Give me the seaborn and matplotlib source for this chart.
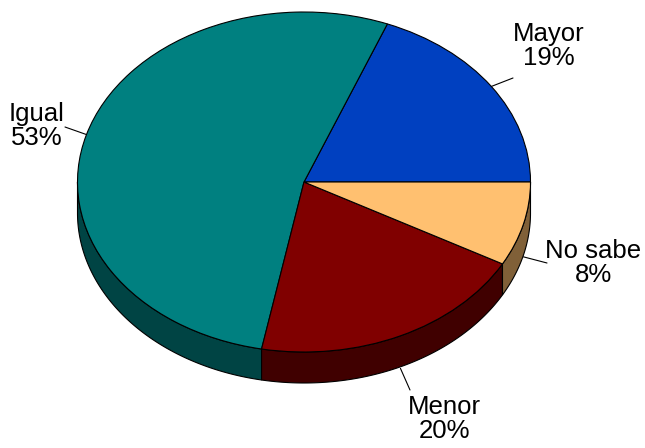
import numpy as np
import matplotlib
matplotlib.use("Agg")
import matplotlib.pyplot as plt
import seaborn as sns

categories = ["Mayor", "Igual", "Menor", "No sabe"]
values = [19, 53, 20, 8]
top_colors = ["#0040C0", "#008080", "#800000", "#FFC070"]
side_colors = ["#002060", "#004444", "#400000", "#806038"]

sns.set_theme(style="white")
plt.rcParams['font.family'] = ['Liberation Sans', 'DejaVu Sans']

W, H = 645, 448
CX, CY, RX, RY = 304.0, 182.0, 226.5, 170.0
DEPTH = 31.0 / RY

def px(xp, yp):
    return ((xp - CX) / RX, (CY - yp) / RY)

fig = plt.figure(figsize=(W / 100, H / 100), dpi=100)
ax = fig.add_axes([0, 0, 1, 1])

wedges, _ = ax.pie(values, startangle=0, counterclock=True, colors=top_colors,
                   wedgeprops=dict(edgecolor="black", linewidth=0.8, zorder=3))
ax.set_aspect("auto")
x0, y0 = px(0, 0)
x1, y1 = px(W, H)
ax.set_xlim(x0, x1)
ax.set_ylim(y1, y0)
ax.axis("off")

# side walls (front half only)
for w, sc in zip(wedges, side_colors):
    a = max(w.theta1, 180.0)
    b = min(w.theta2, 360.0)
    if b <= a:
        continue
    t = np.radians(np.linspace(a, b, 200))
    xs = np.concatenate([np.cos(t), np.cos(t[::-1])])
    ys = np.concatenate([np.sin(t), np.sin(t[::-1]) - DEPTH])
    ax.fill(xs, ys, facecolor=sc, edgecolor="black", linewidth=0.8, zorder=2)

# labels
label_pos = {"Mayor": (549, 46), "Igual": (37, 126), "Menor": (444, 419), "No sabe": (593, 263)}
leader_end = {"Mayor": (513, 78), "Igual": (65, 127), "Menor": (410, 390), "No sabe": (547, 263)}
for w, cat, v in zip(wedges, categories, values):
    m = np.radians((w.theta1 + w.theta2) / 2)
    ax_, ay_ = np.cos(m), np.sin(m)
    if ay_ < 0:
        ay_ -= DEPTH * 1.05
    ex, ey = px(*leader_end[cat])
    ax.plot([ax_, ex], [ay_, ey], color="black", linewidth=0.8, zorder=4)
    tx, ty = px(*label_pos[cat])
    ax.text(tx, ty, f"{cat}\n{v}%", ha="center", va="center", fontsize=18.5,
            linespacing=1.05, color="black", zorder=5)

fig.savefig("out.png", dpi=100)
